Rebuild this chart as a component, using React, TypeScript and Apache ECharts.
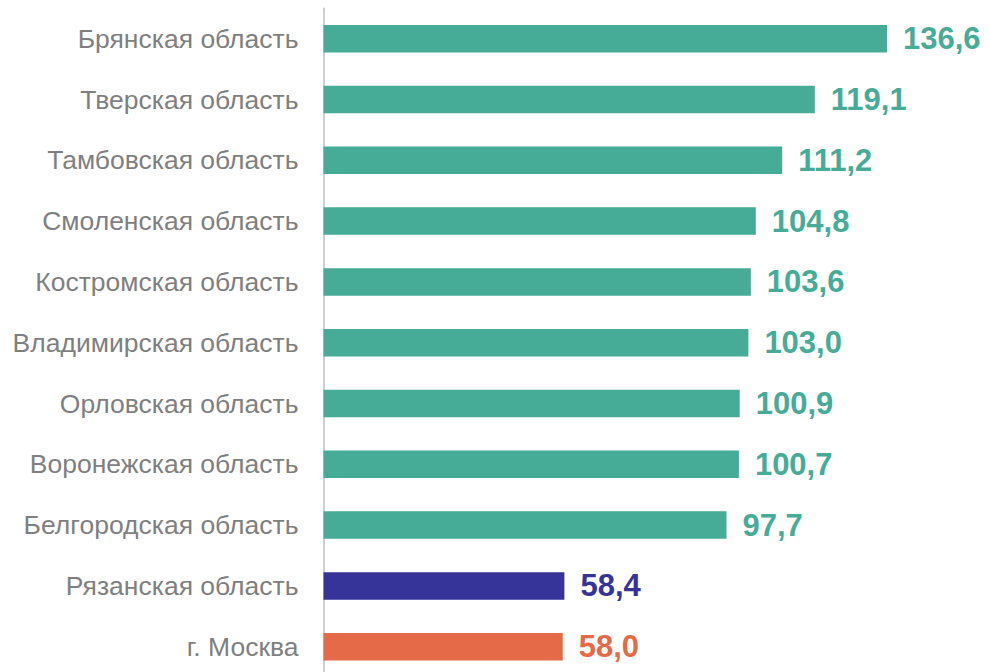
import React, { useEffect, useRef } from "react";
import * as echarts from "echarts";

const categories: string[] = [
  "Брянская область",
  "Тверская область",
  "Тамбовская область",
  "Смоленская область",
  "Костромская область",
  "Владимирская область",
  "Орловская область",
  "Воронежская область",
  "Белгородская область",
  "Рязанская область",
  "г. Москва",
];

const values: number[] = [136.6, 119.1, 111.2, 104.8, 103.6, 103.0, 100.9, 100.7, 97.7, 58.4, 58.0];

const DEFAULT_COLOR = "#46AB97";
const HIGHLIGHT_COLORS: Record<string, string> = {
  "Рязанская область": "#363399",
  "г. Москва": "#E46A48",
};

export default function App() {
  const ref = useRef<HTMLDivElement>(null);
  useEffect(() => {
    if (!ref.current) return;
    const chart = echarts.init(ref.current, null, { renderer: "svg" });
    const data = values.map((v, i) => {
      const c = HIGHLIGHT_COLORS[categories[i]] || DEFAULT_COLOR;
      return {
        value: v,
        itemStyle: { color: c },
        label: { color: c },
      };
    });
    chart.setOption({
      animation: false,
      backgroundColor: "#ffffff",
      grid: { left: 323.5, top: 8.3, width: 618.75, height: 668.8 },
      xAxis: {
        type: "value",
        min: 0,
        max: 150,
        show: false,
        splitLine: { show: false },
      },
      yAxis: {
        type: "category",
        data: categories,
        inverse: true,
        axisLine: { show: true, lineStyle: { color: "#BFBFBF", width: 1.5 } },
        axisTick: { show: false },
        axisLabel: {
          margin: 25,
          fontSize: 26.5,
          color: "#7F7F7F",
          fontFamily: "'Liberation Sans', Arial, sans-serif",
        },
      },
      series: [
        {
          type: "bar",
          data,
          barWidth: 27.5,
          label: {
            show: true,
            position: "right",
            distance: 16,
            fontSize: 31,
            fontWeight: "bold",
            fontFamily: "'Liberation Sans', Arial, sans-serif",
            formatter: (p: any) => Number(p.value).toFixed(1).replace(".", ","),
          },
        },
      ],
    });
    return () => chart.dispose();
  }, []);
  return (
    <div style={{ position: "fixed", left: 0, top: 0, width: 989, height: 672, overflow: "hidden", background: "#fff" }}>
      <div ref={ref} style={{ width: 989, height: 680 }} />
    </div>
  );
}
